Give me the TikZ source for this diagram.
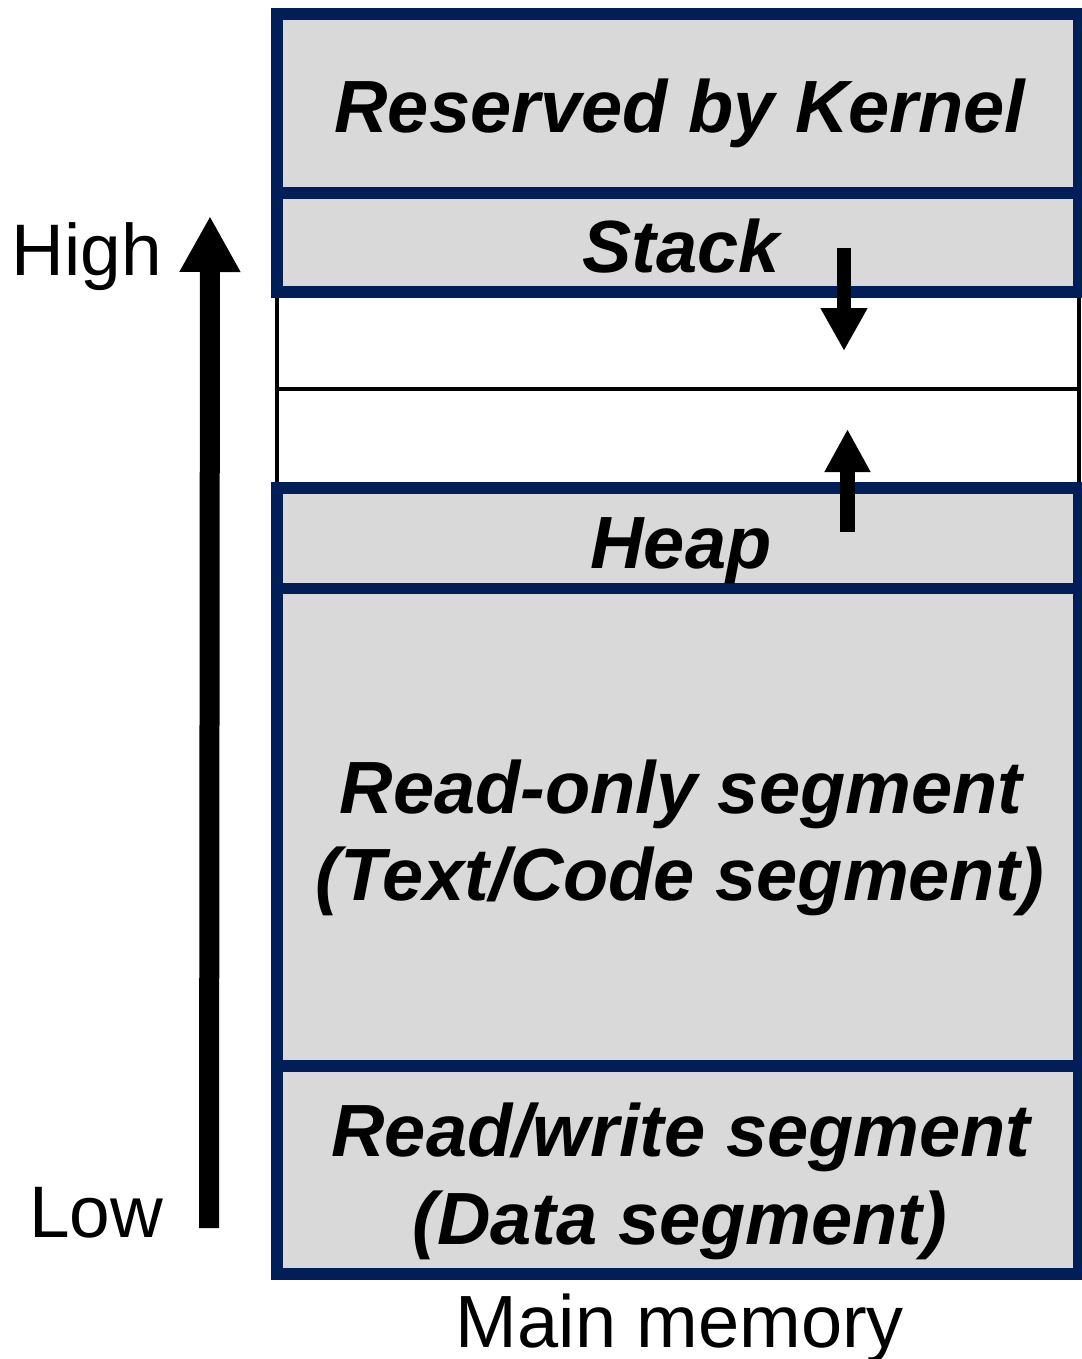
\documentclass[tikz,border=0pt]{standalone}
\usepackage{fontspec}
\setmainfont{Liberation Sans}
\usetikzlibrary{arrows.meta}
\definecolor{segblue}{RGB}{0,30,88}
\definecolor{seggray}{RGB}{217,217,217}
\begin{document}
\begin{tikzpicture}[x=1pt,y=-1pt,
  segbox/.style={draw=segblue,fill=seggray,line width=11.5pt},
  freebox/.style={draw=black,fill=white,line width=3.5pt},
  seglabel/.style={font=\fontsize{74}{80}\selectfont\bfseries\itshape,anchor=base,inner sep=0pt},
  sidelabel/.style={font=\fontsize{73}{80}\selectfont,anchor=base,inner sep=0pt},
  growarrow/.style={line width=#1}]
\useasboundingbox (0,0) rectangle (1081,1359);

% free gap between stack and heap
\draw[freebox] (277,292) rectangle (1079,389);
\draw[freebox] (277,389) rectangle (1079,488);

% memory segments
\draw[segbox] (277,14) rectangle (1079,193);
\draw[segbox] (277,193) rectangle (1079,292);
\draw[segbox] (277,488) rectangle (1079,588.5);
\draw[segbox] (277,588.5) rectangle (1079,1066);
\draw[segbox] (277,1066) rectangle (1079,1274);

% segment labels
\node[seglabel] (kernel) at (680,133) {Reserved by Kernel};
\node[seglabel] (stack) at (681,272) {Stack};
\node[seglabel] (heap) at (681,568) {Heap};
\node[seglabel] (ro1) at (681,813) {Read-only segment};
\node[seglabel] (ro2) at (680,900) {(Text/Code segment)};
\node[seglabel] (rw1) at (681,1156) {Read/write segment};
\node[seglabel] (rw2) at (680,1244) {(Data segment)};
\node[sidelabel,font=\fontsize{74}{80}\selectfont] (mem) at (680,1347) {Main memory};

% address axis
\node[sidelabel] (high) at (87,275) {High};
\node[sidelabel] (low) at (96,1237) {Low};
\coordinate (axisbot) at (209,1228);
\coordinate (axistop) at (210,216);
\draw[line width=20pt,-{Triangle[width=57pt,length=56pt]}] (axisbot) -- (axistop);

% growth directions of stack and heap
\coordinate (stackfrom) at (844,248);
\coordinate (stackto) at (844,351);
\draw[line width=14pt,-{Triangle[width=44pt,length=43pt]}] (stackfrom) -- (stackto);
\coordinate (heapfrom) at (847.5,532);
\coordinate (heapto) at (847.5,429);
\draw[line width=15pt,-{Triangle[width=43pt,length=43pt]}] (heapfrom) -- (heapto);
\end{tikzpicture}
\end{document}
